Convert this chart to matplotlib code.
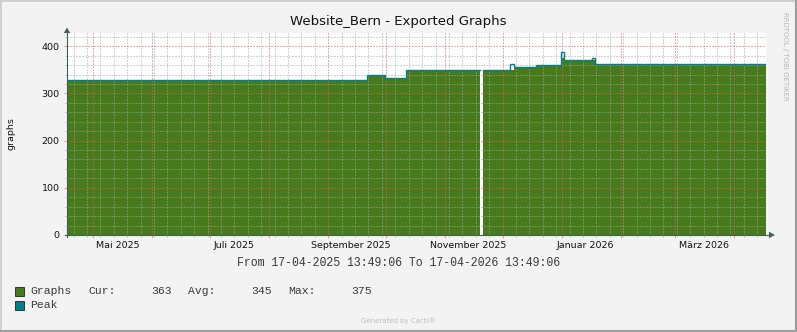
#!/usr/bin/env python3
# coding: utf-8
import matplotlib

matplotlib.use("Agg")
import matplotlib.dates as mdates
import matplotlib.pyplot as plt
import numpy as np
import pandas as pd
from matplotlib.patches import Polygon
from matplotlib.ticker import MultipleLocator

# Text
TITLE = "Website_Bern - Exported Graphs"
Y_LABEL = "graphs"
RANGE_TEXT = "From 17-04-2025 13:49:06 To 17-04-2026 13:49:06"
WATERMARK = "RRDTOOL / TOBI OETIKER"
FOOTER = "Generated by Cacti®"

START = "2025-04-17 13:49:06"
END = "2026-04-17 13:49:06"

# Step segments (start, end, average, peak)
seg_start = [
    "2025-04-17 13:49", "2025-09-21 00:00", "2025-09-30 12:00", "2025-10-11 18:00",
    "2025-11-20 18:00", "2025-12-04 18:00", "2025-12-07 00:00", "2025-12-18 12:00",
    "2025-12-31 18:00", "2026-01-02 06:00", "2026-01-16 12:00", "2026-01-18 12:00",
]
seg_end = [
    "2025-09-21 00:00", "2025-09-30 12:00", "2025-10-11 18:00", "2025-11-19 06:00",
    "2025-12-04 18:00", "2025-12-07 00:00", "2025-12-18 12:00", "2025-12-31 18:00",
    "2026-01-02 06:00", "2026-01-16 12:00", "2026-01-18 12:00", "2026-04-17 13:49",
]
graphs_avg = [328, 336, 332, 348, 348, 349, 354, 359, 375, 369, 370, 362]
graphs_peak = [329, 338, 333, 349, 349, 363, 355, 360, 387, 370, 374, 363]

# Axis labels
month_labels = ["Mai 2025", "Juli 2025", "September 2025", "November 2025", "Januar 2026", "März 2026"]
month_label_pos = ["2025-05-14", "2025-07-14", "2025-09-13", "2025-11-13", "2026-01-13", "2026-03-16"]

# Legend
legend_rows = ["Graphs", "Peak"]
legend_stats = ["Cur:", "363", "Avg:", "345", "Max:", "375"]
legend_stat_x = [88.3, 151.7, 188.3, 251.7, 288.3, 351.7]

GREEN = "#467A1A"
TEAL = "#00808A"
AXIS_COL = "#3F5F57"
BG = "#F3F3F3"

W, H = 797, 332
PL, PR, PT, PB = 67, 766, 33, 235


def build_series():
    xs, avg, peak = [], [], []
    for s, e, a, p in zip(seg_start, seg_end, graphs_avg, graphs_peak):
        s, e = pd.Timestamp(s), pd.Timestamp(e)
        if xs and s > xs[-1]:
            # data gap
            xs.append(xs[-1])
            avg.append(np.nan)
            peak.append(np.nan)
        xs += [s, e]
        avg += [a, a]
        peak += [p, p]
    return mdates.date2num(pd.to_datetime(xs).to_pydatetime()), np.array(avg, float), np.array(peak, float)


def main() -> None:
    plt.rcParams["font.family"] = "DejaVu Sans"
    fig = plt.figure(figsize=(W / 100, H / 100), dpi=100, facecolor=BG)

    ax = fig.add_axes([PL / W, 1 - PB / H, (PR - PL) / W, (PB - PT) / H])
    ax.set_facecolor("white")

    x, avg, peak = build_series()
    ax.fill_between(x, 0, avg, color=GREEN, lw=0, zorder=1)
    ax.plot(x, peak, color=TEAL, lw=1.0, zorder=3, solid_joinstyle="miter")

    x0 = mdates.date2num(pd.Timestamp(START).to_pydatetime())
    x1 = mdates.date2num(pd.Timestamp(END).to_pydatetime())
    ax.set_xlim(x0, x1)
    ax.set_ylim(0, 428)

    ax.xaxis.set_major_locator(mdates.MonthLocator())
    ax.xaxis.set_minor_locator(mdates.WeekdayLocator(byweekday=mdates.MO))
    ax.yaxis.set_major_locator(MultipleLocator(100))
    ax.yaxis.set_minor_locator(MultipleLocator(20))

    ax.set_axisbelow(False)
    dots = (0, (1, 2))
    ax.grid(which="major", color=(0.92, 0.35, 0.35, 0.45), ls=dots, lw=0.72)
    ax.grid(which="minor", color=(0.65, 0.65, 0.65, 0.35), ls=dots, lw=0.72)

    for s in ax.spines.values():
        s.set_visible(False)

    ax.tick_params(axis="x", which="both", labelbottom=False)
    ax.tick_params(axis="x", which="major", length=2, width=0.72, color=(0.9, 0.35, 0.35, 0.6))
    ax.tick_params(axis="x", which="minor", length=1.5, width=0.72, color=(0.65, 0.65, 0.65, 0.6))
    ax.tick_params(axis="y", which="major", length=2, width=0.72, color=(0.9, 0.35, 0.35, 0.6),
                   labelsize=6.8, pad=3.2, labelcolor="#111111")
    ax.tick_params(axis="y", which="minor", length=1.5, width=0.72, color=(0.65, 0.65, 0.65, 0.6))

    trans = ax.get_xaxis_transform()
    label_x = mdates.date2num(pd.to_datetime(month_label_pos).to_pydatetime())
    for lx, lab in zip(label_x, month_labels):
        ax.text(lx, -0.053, lab, transform=trans, ha="center", va="center",
                fontsize=6.8, color="#111111", clip_on=False)

    # overlay in pixel coordinates for frame, arrows and texts
    ov = fig.add_axes([0, 0, 1, 1], facecolor="none", zorder=5)
    ov.set_xlim(0, W)
    ov.set_ylim(H, 0)
    ov.axis("off")

    ov.plot([0.5, W - 0.5], [0.5, 0.5], color="#CFCFCF", lw=1.4)
    ov.plot([0.5, 0.5], [0.5, H - 0.5], color="#CFCFCF", lw=1.4)
    ov.plot([W - 1, W - 1], [0, H], color="#9E9E9E", lw=1.5)
    ov.plot([0, W], [H - 1, H - 1], color="#9E9E9E", lw=1.5)

    ov.plot([PL, PL], [PB + 2, 31], color=AXIS_COL, lw=0.8)
    ov.plot([PL - 2, 770], [PB, PB], color=AXIS_COL, lw=0.8)
    ov.add_patch(Polygon([[63.8, 33], [70.2, 33], [67, 27.5]], closed=True, color=AXIS_COL, lw=0))
    ov.add_patch(Polygon([[769, 231.8], [769, 238.2], [775, 235]], closed=True, color=AXIS_COL, lw=0))

    ov.text(398, 21.5, TITLE, ha="center", va="center", fontsize=9.5, color="#111111")
    ov.text(11, 134, Y_LABEL, ha="center", va="center", rotation=90, fontsize=6.8, color="#111111")
    ov.text(398.5, 263, RANGE_TEXT, ha="center", va="center", fontsize=8.3,
            family="Liberation Mono", color="#3A3A3A")
    ov.text(785, 56, WATERMARK, ha="center", va="center", rotation=270, fontsize=5,
            color="#B5B5B5")
    ov.text(398, 321, FOOTER, ha="center", va="center", fontsize=5, color="#BDBDBD")

    row_y = [291.5, 305.5]
    for ry, name, col in zip(row_y, legend_rows, [GREEN, TEAL]):
        ov.add_patch(plt.Rectangle((15.5, ry - 4.5), 8.5, 8.5, facecolor=col,
                                   edgecolor="#222222", lw=0.6))
        ov.text(30, ry, name, ha="left", va="center", fontsize=8.2,
                family="Liberation Mono", color="#3A3A3A")
    for sx, st in zip(legend_stat_x, legend_stats):
        ov.text(sx, row_y[0], st, ha="left", va="center", fontsize=8.2,
                family="Liberation Mono", color="#3A3A3A")

    fig.savefig("out.png", dpi=100, facecolor=BG)


if __name__ == "__main__":
    main()
